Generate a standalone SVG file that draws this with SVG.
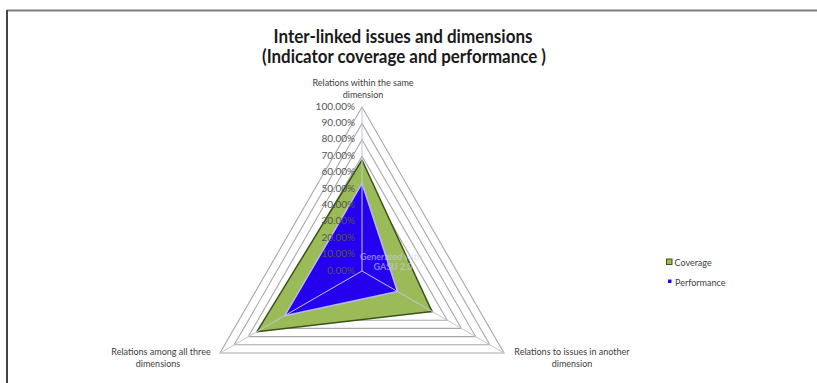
<svg xmlns="http://www.w3.org/2000/svg" width="817" height="383" viewBox="0 0 817 383">
  <style>
    .title { font-family: Lato, "Liberation Sans", sans-serif; font-weight: bold; font-size: 18px; fill: #1a1a1a; text-anchor: middle; }
    .lbl { font-family: Lato, "Liberation Sans", sans-serif; font-size: 9px; fill: #404040; }
    .mid { text-anchor: middle; }
    .tick { font-family: Lato, "Liberation Sans", sans-serif; font-size: 10px; fill: #555555; text-anchor: end; }
    .ring { fill: none; stroke: #a8a8a8; stroke-width: 1.1; }
    .spoke { stroke: #c4c4dc; stroke-width: 1; }
    .wm { font-family: Lato, "Liberation Sans", sans-serif; font-size: 9px; font-weight: bold; fill: #d0d0f0; fill-opacity: 0.6; text-anchor: middle; }
  </style>

  <rect width="817" height="383" fill="#ffffff"/>

  <!-- frame -->
  <line x1="7" y1="10.5" x2="817" y2="10.5" stroke="#7c7c7c" stroke-width="2"/>
  <line x1="7" y1="10" x2="7" y2="383" stroke="#444444" stroke-width="2"/>

  <!-- title -->
  <text class="title" x="403" y="43" textLength="259" lengthAdjust="spacingAndGlyphs">Inter-linked issues and dimensions</text>
  <text class="title" x="404" y="63" textLength="284" lengthAdjust="spacingAndGlyphs">(Indicator coverage and performance )</text>

  <!-- radar grid: center (362,271), radius 164, 10 rings -->
  <g id="grid">
    <polygon class="ring" points="362,254.6 347.8,279.2 376.2,279.2"/>
    <polygon class="ring" points="362,238.2 333.6,287.4 390.4,287.4"/>
    <polygon class="ring" points="362,221.8 319.4,295.6 404.6,295.6"/>
    <polygon class="ring" points="362,205.4 305.2,303.8 418.8,303.8"/>
    <polygon class="ring" points="362,189 291,312 433,312"/>
    <polygon class="ring" points="362,172.6 276.8,320.2 447.2,320.2"/>
    <polygon class="ring" points="362,156.2 262.6,328.4 461.4,328.4"/>
    <polygon class="ring" points="362,139.8 248.4,336.6 475.6,336.6"/>
    <polygon class="ring" points="362,123.4 234.2,344.8 489.8,344.8"/>
    <polygon class="ring" points="362,107 220,353 504,353"/>
  </g>

  <!-- series -->
  <g id="coverage">
    <polygon points="362,160 256.8,331.8 431.9,311.4" fill="#9bbb59" stroke="#3b5417" stroke-width="1.5" stroke-linejoin="round"/>
  </g>
  <g id="performance">
    <polygon points="362,183.3 284.7,315.7 397.5,291.5" fill="#2400ee" stroke="#b8b8ff" stroke-width="1.5" stroke-linejoin="round"/>
  </g>

  <!-- axis spokes -->
  <g id="connectors">
    <line class="spoke" x1="362" y1="271" x2="362" y2="107"/>
    <line class="spoke" x1="362" y1="271" x2="220" y2="353"/>
    <line class="spoke" x1="362" y1="271" x2="504" y2="353"/>
  </g>

  <!-- watermark -->
  <text class="wm" x="391" y="260">Generated with</text>
  <text class="wm" x="393" y="270">GASU 2.0</text>

  <!-- scale labels -->
  <g id="scale">
    <text class="tick" x="355" y="109.5">100.00%</text>
    <text class="tick" x="355" y="125.9">90.00%</text>
    <text class="tick" x="355" y="142.3">80.00%</text>
    <text class="tick" x="355" y="158.7">70.00%</text>
    <text class="tick" x="355" y="175.1">60.00%</text>
    <text class="tick" x="355" y="191.5">50.00%</text>
    <text class="tick" x="355" y="207.9">40.00%</text>
    <text class="tick" x="355" y="224.3">30.00%</text>
    <text class="tick" x="355" y="240.7">20.00%</text>
    <text class="tick" x="355" y="257.1">10.00%</text>
    <text class="tick" x="355" y="273.5">0.00%</text>
  </g>

  <!-- axis labels -->
  <g id="axis-top">
    <text class="lbl mid" x="363" y="86">Relations within the same</text>
    <text class="lbl mid" x="363" y="98">dimension</text>
  </g>
  <g id="axis-left">
    <text class="lbl mid" x="161" y="355">Relations among all three</text>
    <text class="lbl mid" x="158" y="367">dimensions</text>
  </g>
  <g id="axis-right">
    <text class="lbl mid" x="572" y="355">Relations to issues in another</text>
    <text class="lbl mid" x="572" y="367">dimension</text>
  </g>

  <!-- legend -->
  <g id="legend-coverage">
    <rect x="666.5" y="259" width="5.5" height="5.5" fill="#9bbb59" stroke="#3b5417" stroke-width="1"/>
    <text class="lbl" x="674.5" y="265.5">Coverage</text>
  </g>
  <g id="legend-performance">
    <rect x="668" y="279.5" width="3.5" height="3.5" fill="#2400ee"/>
    <text class="lbl" x="675" y="285.5">Performance</text>
  </g>
</svg>
